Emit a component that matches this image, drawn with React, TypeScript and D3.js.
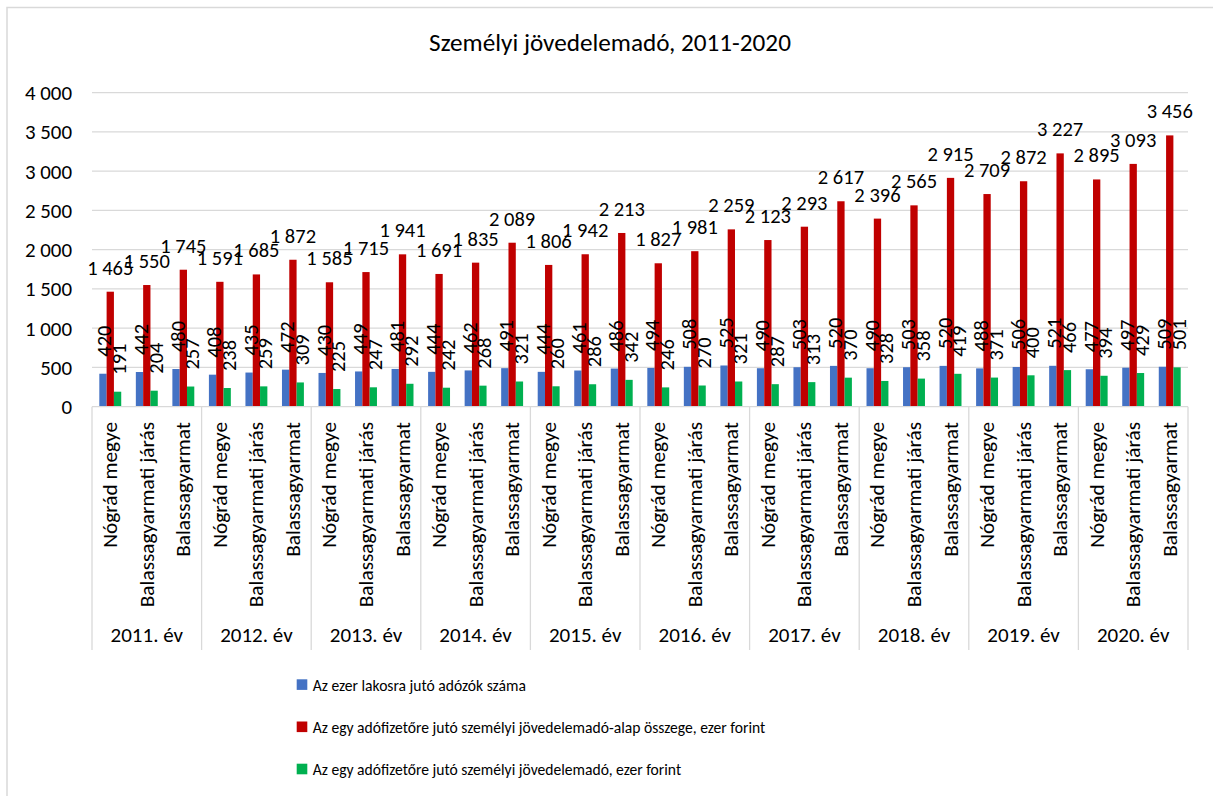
import React from "react";
import * as d3 from "d3";

const years = ["2011. év", "2012. év", "2013. év", "2014. év", "2015. év", "2016. év", "2017. év", "2018. év", "2019. év", "2020. év"];
const places = ["Nógrád megye", "Balassagyarmati járás", "Balassagyarmat"];

const seriesNames = [
  "Az ezer lakosra jutó adózók száma",
  "Az egy adófizetőre jutó személyi jövedelemadó-alap összege, ezer forint",
  "Az egy adófizetőre jutó személyi jövedelemadó, ezer forint",
];

const taxpayers = [420, 442, 480, 408, 435, 472, 430, 449, 481, 444, 462, 491, 444, 461, 486, 494, 508, 525, 490, 503, 520, 490, 503, 520, 488, 506, 521, 477, 497, 509];
const taxBase = [1465, 1550, 1745, 1591, 1685, 1872, 1585, 1715, 1941, 1691, 1835, 2089, 1806, 1942, 2213, 1827, 1981, 2259, 2123, 2293, 2617, 2396, 2565, 2915, 2709, 2872, 3227, 2895, 3093, 3456];
const taxPaid = [191, 204, 257, 238, 259, 309, 225, 247, 292, 242, 268, 321, 260, 286, 342, 246, 270, 321, 287, 313, 370, 328, 358, 419, 371, 400, 466, 394, 429, 501];

const yTicks = [0, 500, 1000, 1500, 2000, 2500, 3000, 3500, 4000];

const colors = ["#4472C4", "#C00000", "#00B050"];
const FONT = "Carlito, Calibri, Lato, sans-serif";

const locale = d3.formatLocale({ decimal: ",", thousands: " ", grouping: [3], currency: ["", ""] });
const fmt = locale.format(",d");

export default function App() {
  const W = 1213, H = 796;
  const left = 92, right = 1188, top = 92.7, bottom = 406.7;

  const cats = years.flatMap((yr) => places.map((p) => `${yr}|${p}`));
  const x = d3.scaleBand<string>().domain(cats).range([left, right]).paddingInner(0).paddingOuter(0);
  const xg = d3.scaleBand<string>().domain(years).range([left, right]);
  const bw = x.bandwidth();
  const inner = d3.scaleBand<number>().domain([0, 1, 2]).range([bw * 0.2, bw * 0.8]);
  const y = d3.scaleLinear().domain([0, 4000]).range([bottom, top]);

  const allSeries = [taxpayers, taxBase, taxPaid];
  const axisFs = 20.9;
  const labelFs = 20.5;

  return (
    <svg width={W} height={H} style={{ position: "absolute", left: 0, top: 0, background: "#fff" }} fontFamily={FONT}>
      <rect x={7} y={7.5} width={W + 20} height={H + 20} fill="#fff" stroke="#D9D9D9" strokeWidth={1.5} />
      <text x={610} y={51} textAnchor="middle" fontSize={25.2} fill="#000">Személyi jövedelemadó, 2011-2020</text>

      {yTicks.map((t) => (
        <g key={t}>
          {t > 0 && <line x1={left} x2={right} y1={y(t)} y2={y(t)} stroke="#D9D9D9" strokeWidth={1.3} />}
          <text x={72} y={y(t)} dy="0.35em" textAnchor="end" fontSize={axisFs} fill="#000">{fmt(t)}</text>
        </g>
      ))}

      {allSeries.map((vals, si) => (
        <g key={si}>
          {vals.map((v, i) => (
            <rect key={i} x={(x(cats[i]) as number) + (inner(si) as number)} y={y(v)} width={inner.bandwidth()} height={y(0) - y(v)} fill={colors[si]} />
          ))}
        </g>
      ))}

      <line x1={left} x2={right} y1={bottom} y2={bottom} stroke="#D9D9D9" strokeWidth={1.3} />
      {years.map((yr) => (
        <line key={yr} x1={xg(yr)} x2={xg(yr)} y1={bottom} y2={650} stroke="#D9D9D9" strokeWidth={1.3} />
      ))}
      <line x1={right} x2={right} y1={bottom} y2={650} stroke="#D9D9D9" strokeWidth={1.3} />

      {allSeries.map((vals, si) => (
        <g key={"l" + si}>
          {vals.map((v, i) => {
            const cx = (x(cats[i]) as number) + (inner(si) as number) + inner.bandwidth() / 2;
            const yy = y(v) - 17;
            if (si === 1) {
              return (
                <text key={i} x={cx} y={yy} textAnchor="middle" fontSize={labelFs} fill="#000">{fmt(v)}</text>
              );
            }
            return (
              <text key={i} transform={`translate(${cx + 8.5},${yy}) rotate(-90)`} textAnchor="start" fontSize={labelFs} fill="#000">{fmt(v)}</text>
            );
          })}
        </g>
      ))}

      {cats.map((c, i) => {
        const cx = (x(c) as number) + bw / 2;
        return (
          <text key={c} transform={`translate(${cx + 7},422) rotate(-90)`} textAnchor="end" fontSize={21.3} fill="#000">{places[i % 3]}</text>
        );
      })}
      {years.map((yr) => (
        <text key={yr} x={(xg(yr) as number) + xg.bandwidth() / 2} y={642} textAnchor="middle" fontSize={21} fill="#000">{yr}</text>
      ))}

      {seriesNames.map((s, i) => (
        <g key={s}>
          <rect x={296.7} y={679.3 + i * 42.2} width={10.6} height={10.6} fill={colors[i]} />
          <text x={312.7} y={690.7 + i * 42.2} fontSize={15.6} fill="#000">{s}</text>
        </g>
      ))}
    </svg>
  );
}
